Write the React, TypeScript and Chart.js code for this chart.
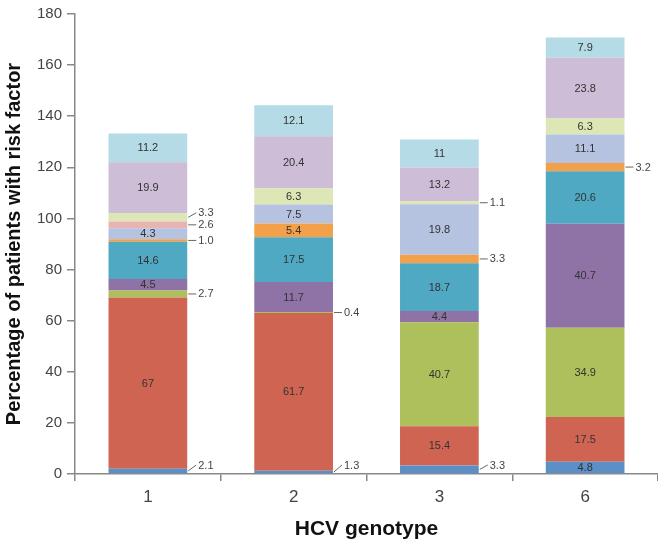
import React, { useEffect, useRef } from "react";
import { Chart, registerables } from "chart.js";

Chart.register(...registerables);

const categories = ["1", "2", "3", "6"];
const yTicks = [0, 20, 40, 60, 80, 100, 120, 140, 160, 180];

const blueVals = [2.1, 1.3, 3.3, 4.8];
const redVals = [67, 61.7, 15.4, 17.5];
const greenVals = [2.7, 0.4, 40.7, 34.9];
const purpleVals = [4.5, 11.7, 4.4, 40.7];
const tealVals = [14.6, 17.5, 18.7, 20.6];
const orangeVals = [1.0, 5.4, 3.3, 3.2];
const lightBlueVals = [4.3, 7.5, 19.8, 11.1];
const pinkVals = [2.6, 0, 0, 0];
const lightGreenVals = [3.3, 6.3, 1.1, 6.3];
const lightPurpleVals = [19.9, 20.4, 13.2, 23.8];
const cyanVals = [11.2, 12.1, 11, 7.9];

const seriesData = [
  blueVals, redVals, greenVals, purpleVals, tealVals, orangeVals,
  lightBlueVals, pinkVals, lightGreenVals, lightPurpleVals, cyanVals,
];
const seriesColors = [
  "#5b8fc6", "#cf6453", "#adc05b", "#8f73a7", "#4fa9c3", "#f3a04a",
  "#b5c3e1", "#e8b4b1", "#dde7b6", "#cdbdd7", "#b5dbe6",
];

const FONT = "'Liberation Sans', Arial, sans-serif";

const fmt = (v: number) => (Number.isInteger(v) && v < 10 ? v.toFixed(1) : String(v));

const labelPlugin = {
  id: "segLabels",
  afterDatasetsDraw(chart: any) {
    const ctx = chart.ctx;
    const axisY = chart.scales.y.getPixelForValue(0);
    ctx.save();
    ctx.font = `11px ${FONT}`;
    for (let i = 0; i < categories.length; i++) {
      let prevY = Infinity;
      chart.data.datasets.forEach((ds: any, di: number) => {
        const v = ds.data[i];
        if (!v) return;
        const el: any = chart.getDatasetMeta(di).data[i];
        const top = Math.min(el.y, el.base);
        const bot = Math.max(el.y, el.base);
        const mid = (top + bot) / 2;
        const text = fmt(v);
        if (v >= 4) {
          ctx.fillStyle = "#333";
          ctx.textAlign = "center";
          ctx.textBaseline = "middle";
          ctx.fillText(text, el.x, mid + 0.5);
        } else {
          const right = el.x + el.width / 2;
          let ly = Math.min(mid, axisY - 9, prevY - 12);
          prevY = ly;
          ctx.strokeStyle = "#666";
          ctx.lineWidth = 1;
          ctx.beginPath();
          ctx.moveTo(right + 1, mid);
          ctx.lineTo(right + 9, ly);
          ctx.stroke();
          ctx.fillStyle = "#444";
          ctx.textAlign = "left";
          ctx.textBaseline = "middle";
          ctx.fillText(text, right + 11, ly + 0.5);
        }
      });
    }
    ctx.restore();
  },
};

export default function App() {
  const ref = useRef<HTMLCanvasElement>(null);
  useEffect(() => {
    if (!ref.current) return;
    const chart = new Chart(ref.current, {
      type: "bar",
      data: {
        labels: categories,
        datasets: seriesData.map((d, k) => ({
          data: d,
          backgroundColor: seriesColors[k],
          borderWidth: 0,
          barPercentage: 0.54,
          categoryPercentage: 1,
        })),
      },
      options: {
        responsive: false,
        animation: false,
        layout: { padding: { top: 12, right: 0, left: 0, bottom: 0 } },
        plugins: { legend: { display: false }, tooltip: { enabled: false } },
        scales: {
          x: {
            stacked: true,
            grid: { drawOnChartArea: false, drawTicks: true, tickLength: 7, color: "#888", lineWidth: 1.5, offset: true },
            border: { display: true, color: "#888", width: 1.5 },
            ticks: { color: "#444", font: { family: FONT, size: 17 }, padding: 6 },
            title: { display: true, text: "HCV genotype", color: "#111", font: { family: FONT, size: 21, weight: "bold" }, padding: { top: 6, bottom: 0 } },
            afterFit: (s: any) => { s.height = 68; },
          },
          y: {
            stacked: true,
            min: 0,
            max: 180,
            afterBuildTicks: (s: any) => { s.ticks = yTicks.map((v) => ({ value: v })); },
            grid: { drawOnChartArea: false, drawTicks: true, tickLength: 8, color: "#888", lineWidth: 1.5 },
            border: { display: true, color: "#888", width: 1.5 },
            ticks: { color: "#444", font: { family: FONT, size: 15 }, padding: 5 },
            title: { display: true, text: "Percentage of patients with risk factor", color: "#111", font: { family: FONT, size: 20, weight: "bold" }, padding: { top: 2, bottom: 0 } },
            afterFit: (s: any) => { s.width = 75; },
          },
        },
      },
      plugins: [labelPlugin],
    });
    return () => chart.destroy();
  }, []);
  return (
    <div style={{ position: "fixed", left: 0, top: 0, width: 658, height: 542, background: "#fff" }}>
      <canvas ref={ref} width={658} height={542} style={{ display: "block" }} />
    </div>
  );
}
